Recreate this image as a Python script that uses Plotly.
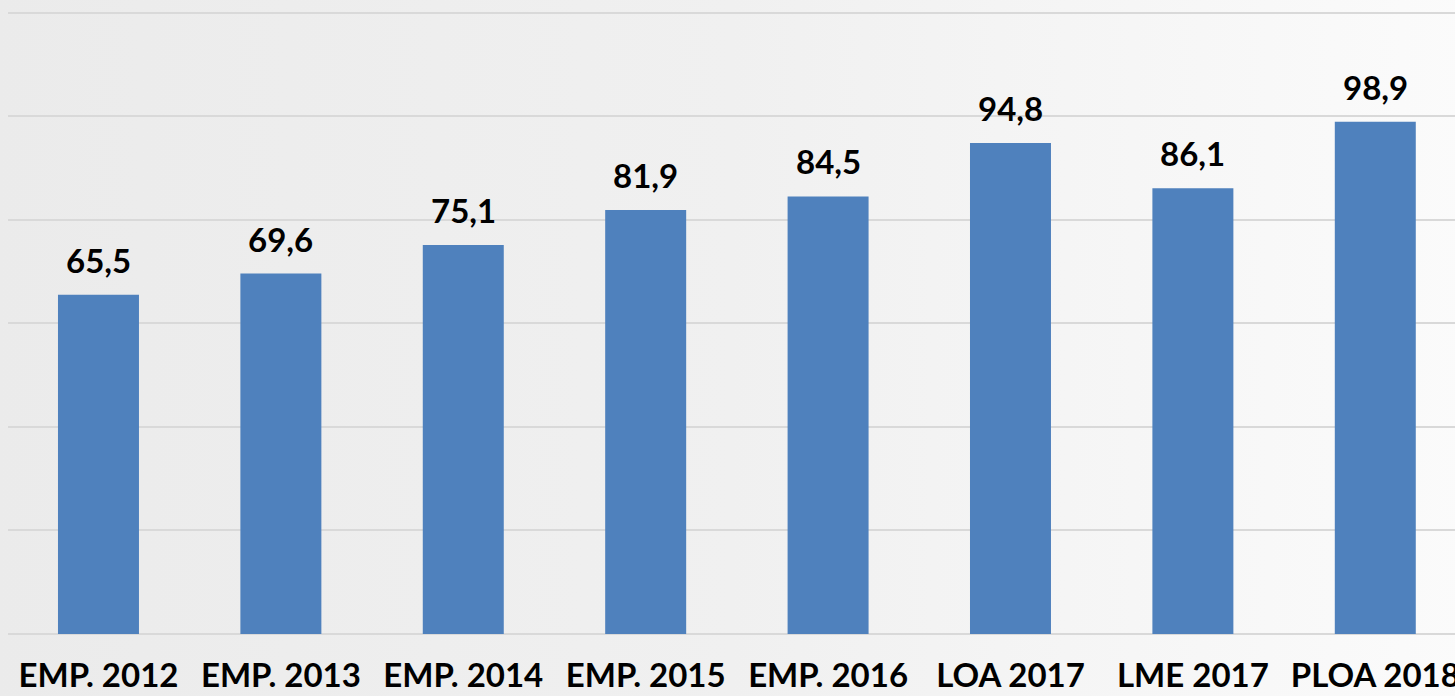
import base64
import plotly.graph_objects as go

categories = ["EMP. 2012", "EMP. 2013", "EMP. 2014", "EMP. 2015", "EMP. 2016",
              "LOA 2017", "LME 2017", "PLOA 2018"]
values = [65.5, 69.6, 75.1, 81.9, 84.5, 94.8, 86.1, 98.9]
labels = [f"{v:.1f}".replace(".", ",") for v in values]

FONT = "Lato, Carlito, Calibri, 'Open Sans', sans-serif"

bg_svg = (
    '<svg xmlns="http://www.w3.org/2000/svg" width="100" height="100" preserveAspectRatio="none">'
    '<defs><linearGradient id="g" x1="0" y1="0" x2="1" y2="0">'
    '<stop offset="0" stop-color="#ebebeb"/>'
    '<stop offset="0.5" stop-color="#f0f0f0"/>'
    '<stop offset="1" stop-color="#fbfbfb"/>'
    '</linearGradient></defs>'
    '<rect width="100" height="100" fill="url(#g)"/></svg>'
)
bg_src = "data:image/svg+xml;base64," + base64.b64encode(bg_svg.encode()).decode()

fig = go.Figure()
fig.add_trace(go.Bar(
    x=categories, y=values,
    marker=dict(color="#4f81bd", line=dict(width=0)),
    hoverinfo="skip",
))

for c, v, t in zip(categories, values, labels):
    fig.add_annotation(x=c, y=v, text=f"<b>{t}</b>", showarrow=False,
                       yanchor="bottom", yshift=13,
                       font=dict(family=FONT, size=33, color="#000000"))

fig.add_layout_image(
    source=bg_src, xref="paper", yref="paper",
    x=-0.01, y=1.03, sizex=1.02, sizey=1.16,
    xanchor="left", yanchor="top", sizing="stretch", layer="below",
)

fig.update_layout(
    width=1455, height=696,
    margin=dict(l=8, r=0, t=10, b=62, autoexpand=False),
    paper_bgcolor="#efefef",
    plot_bgcolor="rgba(0,0,0,0)",
    bargap=0.556,
    showlegend=False,
    font=dict(family=FONT, color="#000000"),
)
fig.update_xaxes(
    range=[-0.496, 7.437], automargin=False,
    showgrid=False, showline=False, zeroline=False,
    ticks="", ticklabelstandoff=19,
    tickfont=dict(family=FONT, size=33, color="#000000", weight="bold"),
)
fig.update_yaxes(
    range=[0, 120.5], tickvals=[0, 20, 40, 60, 80, 100, 120], automargin=False,
    showgrid=True, gridcolor="#d9d9d9", gridwidth=2,
    zeroline=True, zerolinecolor="#d9d9d9", zerolinewidth=2,
    showticklabels=False, showline=False, ticks="",
)

fig.write_html(
    "out.html",
    config={"displayModeBar": False},
    post_script=(
        "document.documentElement.style.overflow='hidden';"
        "document.body.style.overflow='hidden';"
        "document.body.style.margin='0';"
        "document.body.style.background='#efefef';"
    ),
)
